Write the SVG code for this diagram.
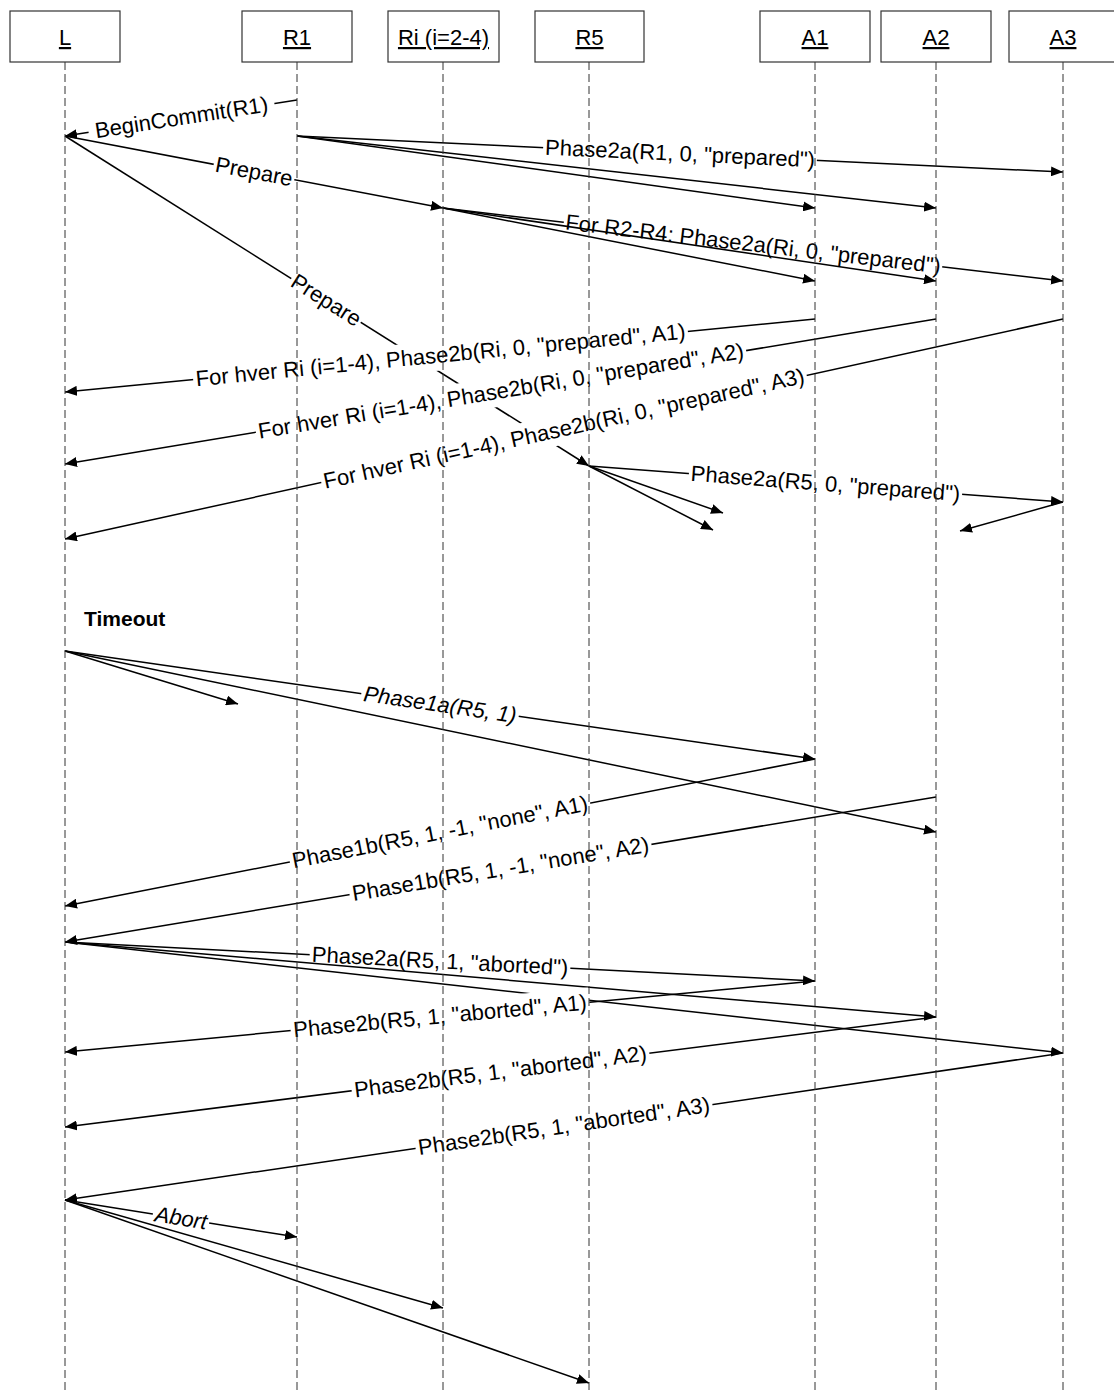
<svg xmlns="http://www.w3.org/2000/svg" width="1114" height="1394" viewBox="0 0 1114 1394">
<style>
.c{stroke:#000;stroke-width:1.5;fill:none}
.lbl rect{fill:#fff;stroke:none}
.lbl text{font-family:"Liberation Sans",Arial,sans-serif;font-size:22px;text-anchor:middle;fill:#000}
.it text{font-style:italic}
.box{fill:#fff;stroke:#333;stroke-width:1.2}
.ll{stroke:#333;stroke-width:1;stroke-dasharray:8 4}
.nl{font-family:"Liberation Sans",Arial,sans-serif;font-size:22px;text-anchor:middle;text-decoration:underline;fill:#000}
.note{font-family:"Liberation Sans",Arial,sans-serif;font-size:21px;font-weight:bold;fill:#000}
</style>
<defs>
<marker id="ah" viewBox="0 0 12 10" refX="12" refY="5" markerWidth="12" markerHeight="10" orient="auto" markerUnits="userSpaceOnUse">
<path d="M0,0 L12,5 L0,10 z" fill="#000"/>
</marker>
</defs>
<rect width="1114" height="1394" fill="#fff"/>
<g id="connectors">
<line class="c" x1="297" y1="100" x2="65" y2="136" marker-end="url(#ah)"/>
<g class="lbl" transform="translate(181.5,117.9) rotate(-8.82)"><rect x="-94" y="-15" width="188" height="30"/><text y="7">BeginCommit(R1)</text></g>
<line class="c" x1="297" y1="136" x2="1063" y2="172" marker-end="url(#ah)"/>
<g class="lbl" transform="translate(680,154) rotate(2.69)"><rect x="-137" y="-15" width="274" height="30"/><text y="7">Phase2a(R1, 0, "prepared")</text></g>
<line class="c" x1="297" y1="136" x2="815" y2="208" marker-end="url(#ah)"/>
<line class="c" x1="297" y1="136" x2="936" y2="208" marker-end="url(#ah)"/>
<line class="c" x1="65" y1="136" x2="443" y2="208" marker-end="url(#ah)"/>
<g class="lbl" transform="translate(254,172) rotate(10.78)"><rect x="-41" y="-15" width="82" height="30"/><text y="7">Prepare</text></g>
<line class="c" x1="65" y1="136" x2="589" y2="466" marker-end="url(#ah)"/>
<g class="lbl" transform="translate(326,300.4) rotate(32.2)"><rect x="-41" y="-15" width="82" height="30"/><text y="7">Prepare</text></g>
<line class="c" x1="443" y1="208" x2="1063" y2="281" marker-end="url(#ah)"/>
<g class="lbl" transform="translate(753,244.5) rotate(6.72)"><rect x="-190.5" y="-15" width="381" height="30"/><text y="7">For R2-R4: Phase2a(Ri, 0, "prepared")</text></g>
<line class="c" x1="443" y1="208" x2="815" y2="281" marker-end="url(#ah)"/>
<line class="c" x1="443" y1="208" x2="936" y2="281" marker-end="url(#ah)"/>
<line class="c" x1="815" y1="319" x2="65" y2="392" marker-end="url(#ah)"/>
<g class="lbl" transform="translate(440.5,355.5) rotate(-5.56)"><rect x="-248.5" y="-15" width="497" height="30"/><text y="7">For hver Ri (i=1-4), Phase2b(Ri, 0, "prepared", A1)</text></g>
<line class="c" x1="936" y1="319" x2="65" y2="464" marker-end="url(#ah)"/>
<g class="lbl" transform="translate(501,391.4) rotate(-9.45)"><rect x="-248.5" y="-15" width="497" height="30"/><text y="7">For hver Ri (i=1-4), Phase2b(Ri, 0, "prepared", A2)</text></g>
<line class="c" x1="1063" y1="319" x2="65" y2="539" marker-end="url(#ah)"/>
<g class="lbl" transform="translate(564,429) rotate(-12.43)"><rect x="-248.5" y="-15" width="497" height="30"/><text y="7">For hver Ri (i=1-4), Phase2b(Ri, 0, "prepared", A3)</text></g>
<line class="c" x1="589" y1="466" x2="1063" y2="502" marker-end="url(#ah)"/>
<g class="lbl" transform="translate(825.5,484) rotate(4.34)"><rect x="-137" y="-15" width="274" height="30"/><text y="7">Phase2a(R5, 0, "prepared")</text></g>
<line class="c" x1="589" y1="466" x2="723" y2="513" marker-end="url(#ah)"/>
<line class="c" x1="589" y1="466" x2="713" y2="530" marker-end="url(#ah)"/>
<line class="c" x1="1063" y1="502" x2="960" y2="531" marker-end="url(#ah)"/>
<line class="c" x1="65" y1="651" x2="238" y2="704" marker-end="url(#ah)"/>
<line class="c" x1="65" y1="651" x2="815" y2="759" marker-end="url(#ah)"/>
<g class="lbl it" transform="translate(440,705) rotate(8.2)"><rect x="-79.5" y="-15" width="159" height="30"/><text y="7">Phase1a(R5, 1)</text></g>
<line class="c" x1="65" y1="651" x2="936" y2="832" marker-end="url(#ah)"/>
<line class="c" x1="815" y1="759" x2="65" y2="906" marker-end="url(#ah)"/>
<g class="lbl" transform="translate(440,832.5) rotate(-11.09)"><rect x="-153" y="-15" width="306" height="30"/><text y="7">Phase1b(R5, 1, -1, "none", A1)</text></g>
<line class="c" x1="936" y1="797" x2="65" y2="942" marker-end="url(#ah)"/>
<g class="lbl" transform="translate(500.5,869.5) rotate(-9.45)"><rect x="-153" y="-15" width="306" height="30"/><text y="7">Phase1b(R5, 1, -1, "none", A2)</text></g>
<line class="c" x1="65" y1="942" x2="815" y2="981" marker-end="url(#ah)"/>
<g class="lbl" transform="translate(440,961.5) rotate(2.98)"><rect x="-130.5" y="-15" width="261" height="30"/><text y="7">Phase2a(R5, 1, "aborted")</text></g>
<line class="c" x1="65" y1="942" x2="936" y2="1017" marker-end="url(#ah)"/>
<line class="c" x1="65" y1="942" x2="1063" y2="1053" marker-end="url(#ah)"/>
<line class="c" x1="815" y1="981" x2="65" y2="1052" marker-end="url(#ah)"/>
<g class="lbl" transform="translate(440,1016.5) rotate(-5.41)"><rect x="-150" y="-15" width="300" height="30"/><text y="7">Phase2b(R5, 1, "aborted", A1)</text></g>
<line class="c" x1="936" y1="1017" x2="65" y2="1127" marker-end="url(#ah)"/>
<g class="lbl" transform="translate(500.5,1072) rotate(-7.2)"><rect x="-150" y="-15" width="300" height="30"/><text y="7">Phase2b(R5, 1, "aborted", A2)</text></g>
<line class="c" x1="1063" y1="1053" x2="65" y2="1200" marker-end="url(#ah)"/>
<g class="lbl" transform="translate(564,1126.5) rotate(-8.38)"><rect x="-150" y="-15" width="300" height="30"/><text y="7">Phase2b(R5, 1, "aborted", A3)</text></g>
<line class="c" x1="65" y1="1200" x2="297" y2="1237" marker-end="url(#ah)"/>
<g class="lbl it" transform="translate(181,1218.5) rotate(9.06)"><rect x="-28.5" y="-15" width="57" height="30"/><text y="7">Abort</text></g>
<line class="c" x1="65" y1="1200" x2="443" y2="1308" marker-end="url(#ah)"/>
<line class="c" x1="65" y1="1200" x2="589" y2="1383" marker-end="url(#ah)"/>
</g>
<text class="note" x="84" y="626">Timeout</text>
<g id="node-L"><rect class="box" x="10" y="11" width="110" height="51"/><line class="ll" x1="65" y1="62" x2="65" y2="1394"/><text class="nl" x="65" y="45">L</text></g>
<g id="node-R1"><rect class="box" x="242" y="11" width="110" height="51"/><line class="ll" x1="297" y1="62" x2="297" y2="1394"/><text class="nl" x="297" y="45">R1</text></g>
<g id="node-Ri"><rect class="box" x="388" y="11" width="111" height="51"/><line class="ll" x1="443" y1="62" x2="443" y2="1394"/><text class="nl" x="443.5" y="45">Ri (i=2-4)</text></g>
<g id="node-R5"><rect class="box" x="535" y="11" width="109" height="51"/><line class="ll" x1="589" y1="62" x2="589" y2="1394"/><text class="nl" x="589.5" y="45">R5</text></g>
<g id="node-A1"><rect class="box" x="760" y="11" width="110" height="51"/><line class="ll" x1="815" y1="62" x2="815" y2="1394"/><text class="nl" x="815" y="45">A1</text></g>
<g id="node-A2"><rect class="box" x="881" y="11" width="110" height="51"/><line class="ll" x1="936" y1="62" x2="936" y2="1394"/><text class="nl" x="936" y="45">A2</text></g>
<g id="node-A3"><rect class="box" x="1009" y="11" width="110" height="51"/><line class="ll" x1="1063" y1="62" x2="1063" y2="1394"/><text class="nl" x="1063" y="45">A3</text></g>
</svg>
